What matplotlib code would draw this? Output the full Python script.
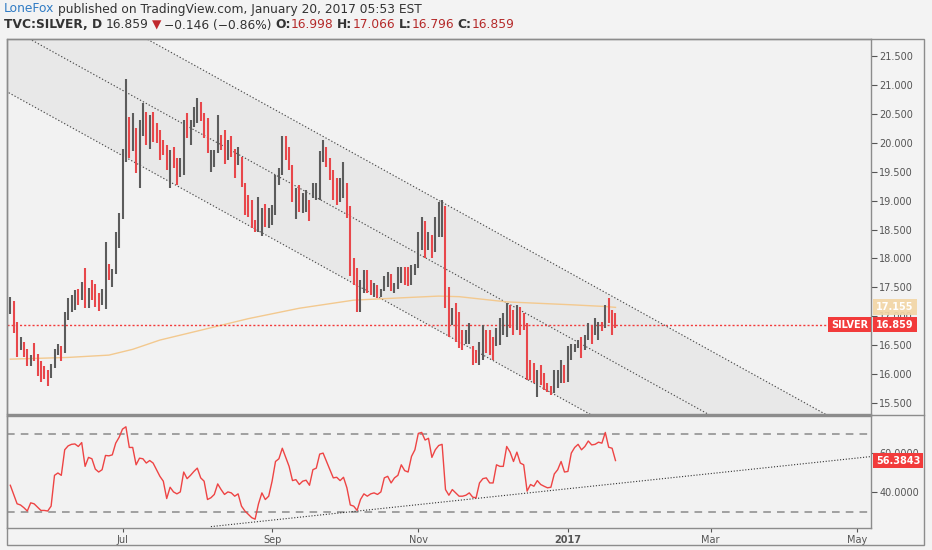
import numpy as np
import pandas as pd
import matplotlib.pyplot as plt
import matplotlib.transforms as mtransforms
from matplotlib.patches import Rectangle
from matplotlib.lines import Line2D

W, H = 932, 550

# daily bars of TVC:SILVER, first bar on 17 May 2016, last on 20 Jan 2017
start_date = "2016-05-17"
end_of_axis = "2017-05-31"

highs = [
    17.33, 17.27, 16.91, 16.64, 16.56, 16.44, 16.33, 16.54, 16.35, 16.22,
    16.14, 16.07, 16.18, 16.43, 16.52, 16.48, 17.07, 17.31, 17.37, 17.46,
    17.47, 17.60, 17.83, 17.49, 17.63, 17.56, 17.40, 17.47, 18.29, 17.91,
    17.81, 18.45, 18.79, 19.89, 21.11, 20.45, 20.51, 20.25, 20.39, 20.68,
    20.54, 20.48, 20.54, 20.34, 20.22, 20.05, 19.96, 19.87, 19.93, 19.73,
    19.73, 20.39, 20.51, 20.39, 20.62, 20.77, 20.71, 20.51, 20.42, 19.87,
    19.87, 20.48, 20.13, 20.22, 20.05, 20.11, 19.90, 19.93, 19.76, 19.30,
    19.10, 19.01, 18.67, 19.07, 18.87, 18.95, 18.87, 18.93, 19.44, 19.56,
    20.11, 20.11, 19.93, 19.62, 19.21, 19.27, 19.13, 19.18, 19.01, 19.30,
    19.30, 19.85, 20.05, 19.93, 19.73, 19.53, 19.39, 19.39, 19.67, 19.30,
    18.90, 18.00, 17.83, 17.63, 17.80, 17.80, 17.63, 17.57, 17.54, 17.48,
    17.69, 17.76, 17.74, 17.57, 17.86, 17.86, 17.86, 17.86, 17.89, 17.91,
    18.46, 18.72, 18.64, 18.46, 18.41, 18.72, 18.98, 19.01, 18.90, 17.51,
    17.14, 17.23, 17.08, 16.76, 16.76, 16.88, 16.48, 16.42, 16.56, 16.85,
    16.76, 16.76, 16.65, 16.79, 16.97, 17.05, 17.23, 17.20, 17.11, 17.20,
    17.17, 17.05, 16.88, 16.25, 16.19, 16.07, 16.16, 16.02, 15.84, 15.79,
    16.07, 16.07, 16.25, 16.16, 16.48, 16.53, 16.53, 16.59, 16.65, 16.68,
    16.88, 16.85, 16.97, 16.91, 16.91, 17.20, 17.31, 17.11, 17.066,
]
lows = [
    17.04, 16.72, 16.30, 16.41, 16.29, 16.14, 16.14, 16.22, 15.97, 15.87,
    15.91, 15.80, 15.93, 16.10, 16.33, 16.22, 16.36, 16.93, 17.08, 17.11,
    17.20, 17.28, 17.14, 17.14, 17.28, 17.16, 17.10, 17.20, 17.12, 17.63,
    17.51, 17.74, 18.19, 18.68, 19.67, 19.73, 19.85, 19.47, 19.21, 20.11,
    19.96, 19.90, 20.02, 19.99, 19.70, 19.79, 19.53, 19.21, 19.56, 19.27,
    19.41, 19.44, 20.08, 19.96, 20.28, 20.34, 20.37, 20.08, 19.82, 19.50,
    19.59, 19.82, 19.87, 19.64, 19.70, 19.76, 19.39, 19.62, 19.24, 18.75,
    18.72, 18.52, 18.46, 18.46, 18.39, 18.55, 18.52, 18.58, 18.75, 19.27,
    19.44, 19.70, 19.53, 18.98, 18.69, 18.81, 18.78, 18.81, 18.64, 19.04,
    19.01, 19.01, 19.67, 19.59, 19.36, 19.01, 18.93, 18.98, 19.04, 18.70,
    17.69, 17.54, 17.08, 17.08, 17.40, 17.40, 17.37, 17.34, 17.31, 17.34,
    17.43, 17.51, 17.43, 17.40, 17.48, 17.57, 17.54, 17.53, 17.54, 17.72,
    17.83, 18.15, 18.00, 18.15, 18.00, 18.12, 18.38, 18.38, 17.15, 16.65,
    16.85, 16.56, 16.45, 16.42, 16.52, 16.53, 16.16, 16.19, 16.16, 16.25,
    16.36, 16.33, 16.25, 16.48, 16.50, 16.68, 16.65, 16.79, 16.68, 16.76,
    16.68, 16.76, 15.90, 15.90, 15.84, 15.61, 15.81, 15.73, 15.70, 15.64,
    15.67, 15.76, 15.84, 15.84, 15.87, 16.25, 16.39, 16.45, 16.28, 16.42,
    16.59, 16.53, 16.68, 16.59, 16.74, 16.79, 16.88, 16.68, 16.796,
]
# g = closed up (grey bar), r = closed down (red bar), ten bars per chunk
bar_dir = "".join([
    "grrgrrgrrr", "rrgggrgggg", "rgrgrrrggr", "gggggrgrgg",
    "rgrrrrrgrr", "ggrgggrrrg", "ggrrgrrgrr", "rrrggrgggg",
    "grrrgrggrg", "gggrrrrggr", "rrrggrrgrg", "ggrgggrrgg",
    "ggrgrgggrr", "grrrggrrgg", "rrrggggrrg", "rrrrrgrrrr",
    "gggrggggrg", "grggrgrrr",
])

rsi = [
    43.7, 39.0, 34.2, 33.6, 32.2, 30.5, 34.7, 34.2, 32.5, 30.8,
    30.8, 30.5, 33.0, 48.8, 50.0, 48.8, 61.9, 63.9, 64.7, 64.9,
    63.6, 65.6, 53.4, 58.0, 57.3, 52.0, 50.5, 51.7, 59.0, 58.8,
    59.3, 65.3, 68.3, 72.5, 73.7, 63.1, 63.1, 54.2, 57.6, 57.3,
    55.1, 56.4, 55.1, 51.7, 48.3, 45.8, 36.9, 42.7, 40.3, 39.3,
    40.3, 50.5, 47.1, 48.8, 50.8, 52.5, 47.5, 45.8, 36.4, 37.3,
    39.0, 44.4, 41.5, 39.0, 40.3, 39.8, 38.1, 39.3, 33.0, 30.5,
    28.8, 27.1, 26.3, 34.2, 39.8, 36.4, 38.1, 45.8, 55.9, 57.3,
    62.7, 58.0, 53.4, 46.1, 46.6, 44.1, 45.8, 46.3, 43.7, 51.7,
    52.5, 59.7, 60.2, 55.9, 51.7, 47.5, 47.8, 46.1, 47.8, 42.4,
    33.6, 33.0, 30.8, 36.4, 39.3, 38.1, 39.3, 39.8, 39.0, 40.3,
    47.5, 48.3, 44.9, 47.5, 48.8, 54.2, 51.2, 50.5, 58.5, 61.9,
    70.3, 70.8, 66.9, 67.8, 58.0, 61.9, 64.1, 64.7, 41.5, 38.6,
    41.5, 39.8, 38.1, 38.1, 38.6, 39.8, 37.6, 37.3, 44.9, 47.1,
    47.5, 44.9, 44.9, 54.2, 53.4, 53.4, 63.6, 60.7, 55.9, 60.7,
    55.1, 54.2, 40.7, 44.1, 43.2, 46.1, 44.1, 43.2, 42.4, 42.7,
    49.5, 51.7, 55.9, 50.5, 50.8, 60.2, 63.1, 64.7, 61.9, 63.6,
    66.4, 64.4, 64.7, 65.8, 65.3, 70.8, 63.2, 62.7, 56.3843,
]

# 200-day moving average read at a few bars
ma_bars = [0, 17, 29, 36, 44, 56, 70, 85, 101, 115, 126, 132, 146, 165, 175, 178]
ma200 = [16.26, 16.29, 16.33, 16.43, 16.59, 16.76, 16.96, 17.14, 17.28,
         17.32, 17.35, 17.34, 17.25, 17.20, 17.17, 17.155]

last_close = 16.859
ma_last = 17.155
rsi_last = 56.3843

# parallel channel drawn by the author: price at bar 0 and slope per bar
chan_upper0, chan_mid0, chan_lower0 = 23.10, 21.98, 20.85
chan_slope = -0.0325
# trend line on the RSI: (bar, value) end points
rsi_trend_bars = [59, 253]
rsi_trend_vals = [22.5, 58.4]

price_ticks = [15.5, 16.0, 16.5, 17.0, 17.5, 18.0, 18.5, 19.0, 19.5, 20.0, 20.5, 21.0, 21.5]
rsi_ticks = [40, 60]
rsi_bands = [30, 70]
month_ticks = ["2016-07-01", "2016-09-01", "2016-11-01", "2017-01-01", "2017-03-01", "2017-05-01"]
month_labels = ["Jul", "Sep", "Nov", "2017", "Mar", "May"]

# ---------------------------------------------------------------------------
BG = "#f3f3f3"
PANE = "#f2f2f2"
FRAME = "#8c8c8c"
TXT = "#555555"
UP = "#5c5c5c"
DOWN = "#e8474b"
RED = "#f23b3b"

fig = plt.figure(figsize=(W / 100, H / 100), dpi=100, facecolor=BG)


def px(x0, y0, x1, y1):
    return [x0 / W, 1 - y1 / H, (x1 - x0) / W, (y1 - y0) / H]


ax_p = fig.add_axes(px(6.7, 39, 871, 414), facecolor=PANE)
ax_r = fig.add_axes(px(6.7, 416, 871, 528), facecolor=PANE, sharex=ax_p)

n = len(highs)
bars = np.arange(n)
dates = pd.bdate_range(start_date, end_of_axis)
xmin, xmax = -1.06, 253.15

# channel
cx = np.array([xmin - 2, xmax + 2])
upper = chan_upper0 + chan_slope * cx
mid = chan_mid0 + chan_slope * cx
lower = chan_lower0 + chan_slope * cx
ax_p.fill_between(cx, lower, upper, color="#e8e8e8", zorder=0.5, lw=0)
for line in (upper, mid, lower):
    ax_p.plot(cx, line, color="#4a4a4a", lw=0.8, ls=(0, (1.2, 1.8)), zorder=1)

# moving average
ax_p.plot(ma_bars, ma200, color="#f3c98f", lw=1.0, zorder=2)

# price bars
cols = [UP if d == "g" else DOWN for d in bar_dir]
ax_p.vlines(bars, lows, highs, colors=cols, lw=1.5, zorder=3)

# last price line
ax_p.axhline(last_close, color=RED, lw=1.0, ls=(0, (1.5, 1.5)), zorder=2.5)

ax_p.set_xlim(xmin, xmax)
ax_p.set_ylim(15.312, 21.794)
ax_p.yaxis.tick_right()
ax_p.set_yticks(price_ticks)
ax_p.set_yticklabels([f"{t:.3f}" for t in price_ticks])
ax_p.tick_params(axis="y", direction="out", length=4, width=0.8, color=TXT,
                 labelsize=7, labelcolor=TXT, pad=2)
ax_p.tick_params(axis="x", bottom=False, labelbottom=False)

# RSI pane
ax_r.plot(bars, rsi, color="#ee4444", lw=1.0, zorder=3)
for b in rsi_bands:
    ax_r.axhline(b, color="#8a8a8a", lw=1.1, ls=(0, (5, 4)), zorder=2)
ax_r.plot(rsi_trend_bars, rsi_trend_vals, color="#333333", lw=0.8,
          ls=(0, (1, 1.6)), zorder=2)
ax_r.set_ylim(21.79, 79.23)
ax_r.yaxis.tick_right()
ax_r.set_yticks(rsi_ticks)
ax_r.set_yticklabels([f"{t:.4f}" for t in rsi_ticks])
ax_r.tick_params(axis="y", direction="out", length=4, width=0.8, color=TXT,
                 labelsize=7, labelcolor=TXT, pad=2)

tick_pos = [dates.searchsorted(pd.Timestamp(m)) for m in month_ticks]
ax_r.set_xticks(tick_pos)
ax_r.set_xticklabels(month_labels)
ax_r.tick_params(axis="x", direction="out", length=3, width=0.8, color=TXT,
                 labelsize=7, labelcolor=TXT, pad=2)
for lab in ax_r.get_xticklabels():
    if lab.get_text() == "2017":
        lab.set_fontweight("bold")

for ax in (ax_p, ax_r):
    for s in ax.spines.values():
        s.set_color(FRAME)
        s.set_linewidth(1.0)

# value labels on the price scale
tp = mtransforms.blended_transform_factory(ax_p.transAxes, ax_p.transData)
ax_p.text(1.006, ma_last, f"{ma_last:.3f}", transform=tp, ha="left", va="center",
          fontsize=7, fontweight="bold", color="white", clip_on=False, zorder=5,
          bbox=dict(boxstyle="square,pad=0.3", fc="#f2d6a6", ec="none", alpha=0.92))
ax_p.text(1.006, last_close, f"{last_close:.3f}", transform=tp, ha="left", va="center",
          fontsize=7, fontweight="bold", color="white", clip_on=False, zorder=6,
          bbox=dict(boxstyle="square,pad=0.3", fc=RED, ec="none"))
ax_p.text(0.997, last_close, "SILVER", transform=tp, ha="right", va="center",
          fontsize=7, fontweight="bold", color="white", zorder=6,
          bbox=dict(boxstyle="square,pad=0.3", fc=RED, ec="none"))

tr = mtransforms.blended_transform_factory(ax_r.transAxes, ax_r.transData)
ax_r.text(1.006, rsi_last, f"{rsi_last:.4f}", transform=tr, ha="left", va="center",
          fontsize=7, fontweight="bold", color="white", clip_on=False, zorder=6,
          bbox=dict(boxstyle="square,pad=0.3", fc=RED, ec="none"))

# outer frame and pane separator across the scale
fig.patches.append(Rectangle((6.7 / W, 1 - 545 / H), (924 - 6.7) / W, (545 - 39) / H,
                             transform=fig.transFigure, fill=False, ec=FRAME, lw=1.0))
fig.lines.append(Line2D([6.7 / W, 924 / W], [1 - 415 / H, 1 - 415 / H],
                        transform=fig.transFigure, color=FRAME, lw=1.0))

# header
renderer = fig.canvas.get_renderer()


def write(pieces, x, y):
    for s, color, weight, gap in pieces:
        t = fig.text(x / W, 1 - y / H, s, color=color, fontsize=8.8, fontweight=weight,
                     va="center", ha="left", family="DejaVu Sans")
        x += t.get_window_extent(renderer=renderer).width + gap


DARK = "#333333"
VAL = "#b52a2a"
write([("LoneFox", "#2f7bc4", "normal", 3.5),
       ("published on TradingView.com, January 20, 2017 05:53 EST", DARK, "normal", 0)],
      4, 9)
write([("TVC:SILVER, D", DARK, "bold", 3.5),
       ("16.859", DARK, "normal", 3.5),
       ("\u25bc", "#c0282d", "normal", 3.0),
       ("\u22120.146 (\u22120.86%)", DARK, "normal", 3.5),
       ("O:", DARK, "bold", 0), ("16.998", VAL, "normal", 3.5),
       ("H:", DARK, "bold", 0), ("17.066", VAL, "normal", 3.5),
       ("L:", DARK, "bold", 0), ("16.796", VAL, "normal", 3.5),
       ("C:", DARK, "bold", 0), ("16.859", VAL, "normal", 0)],
      4, 25)

fig.savefig("out.png", dpi=100, facecolor=BG)
